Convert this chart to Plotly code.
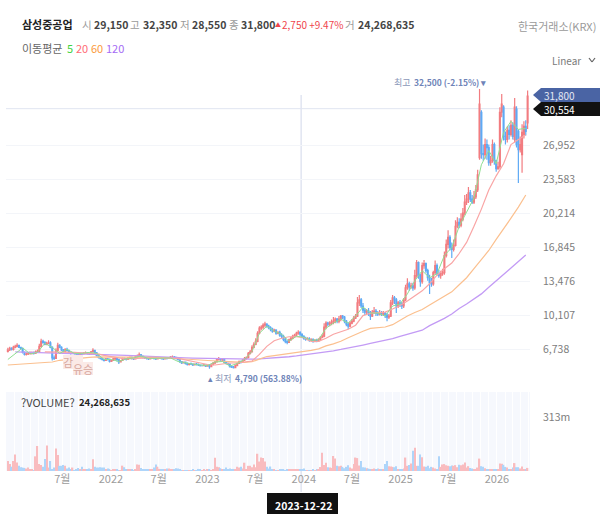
import pandas as pd
import plotly.graph_objects as go

# weekly candles (KRW)
opens = [
    6500,6650,6800,6700,6900,7000,7100,6900,6800,6400,
    6200,6250,6300,6350,6350,6300,6450,6500,7000,7500,
    7400,7200,7300,7350,6900,5850,5800,6600,7100,6900,
    6650,6500,6700,6600,6400,6300,6350,6300,6250,6200,
    6300,6250,6300,6350,6300,6250,6450,6600,6350,6100,
    5900,5800,5700,5600,5750,5700,5500,5600,5750,5800,
    5700,5450,5600,5800,5750,5700,5850,5900,5800,5750,
    6000,6050,6150,6000,5900,5850,5800,5750,5850,5900,
    5800,5750,5800,5850,5800,5750,5850,5800,5850,5950,
    5950,5900,5800,5700,5500,5350,5450,5300,5200,5300,
    5250,5150,5250,5200,5150,5100,5100,5150,5050,5150,
    5000,5200,5350,5450,5700,5750,5650,5700,5400,5300,
    5250,5000,4950,4900,5100,5300,5500,5400,5650,5800,
    5900,6300,6450,6900,7200,7500,8300,8800,8900,9100,
    9200,9000,8850,8700,8500,8600,8300,8400,8100,8000,
    7700,7500,7400,7650,7800,8000,8100,8300,8400,8200,
    8000,7800,7700,7750,7600,7650,7500,7600,7550,7700,
    7900,8000,8900,9300,9200,9300,9400,9500,9700,9500,
    9700,10000,9900,9500,9200,9000,9300,9500,9800,10000,
    11300,11600,11000,10600,10400,10500,10300,10000,10400,10500,
    10300,10200,10350,10200,10300,10100,9900,10000,11300,11800,
    11600,11000,11300,11200,11000,11600,12800,13200,12900,13000,
    12800,14000,15300,14000,13400,15000,15200,14500,13800,13300,
    13200,14300,15000,14200,14000,14200,14300,16000,17100,17800,
    16800,16600,17000,18900,19300,19000,19600,20200,21300,21600,
    22200,21600,21300,21800,22500,25700,30200,26100,26000,27000,
    26700,25200,25400,27000,25400,24600,24800,30200,30700,27800,
    27500,28400,28000,28900,27500,30500,28300,26500,26000,28000,
    28800,29150,
]
highs = [
    6850,6950,6900,7050,7150,7300,7150,6950,6850,6500,
    6400,6450,6500,6500,6500,6600,6700,7250,7750,7650,
    7500,7450,7600,7500,7000,6100,6800,7350,7200,7000,
    6750,6800,6850,6650,6500,6450,6450,6400,6350,6400,
    6400,6450,6500,6450,6400,6550,6800,6650,6450,6200,
    6000,5900,5800,5850,5850,5800,5700,5850,5900,5950,
    5750,5650,5900,5900,5850,5950,6000,6000,5900,6100,
    6200,6400,6250,6100,6000,5950,5900,5950,6000,6000,
    5900,5900,5950,5950,5900,5950,5950,5950,6050,6100,
    6050,5950,5900,5750,5550,5500,5500,5400,5350,5400,
    5300,5300,5350,5300,5200,5200,5250,5200,5200,5200,
    5300,5450,5550,5850,5950,5850,5850,5750,5500,5400,
    5300,5100,5050,5200,5400,5600,5600,5750,5950,6000,
    6450,6650,7100,7400,7800,8500,9000,9100,9300,9450,
    9300,9150,9000,8850,8750,8700,8500,8550,8300,8150,
    7850,7600,7750,7950,8150,8250,8450,8600,8500,8300,
    8100,7950,7900,7900,7800,7800,7700,7750,7800,8000,
    8200,9300,9500,9450,9500,9650,9900,9850,9800,10000,
    10100,10100,10000,9600,9400,9500,9700,10000,10200,11900,
    12100,11800,11300,10800,10700,10800,10500,10600,10900,10700,
    10500,10600,10500,10500,10400,10300,10200,11600,12100,12000,
    11800,11500,11600,11400,11800,13100,13750,13400,13300,13300,
    14600,15550,15400,14200,15300,15550,15300,14700,14100,13800,
    14500,15500,15200,14600,14500,14700,16400,17600,18500,18000,
    17300,17600,19500,19800,19700,20200,20700,22000,22100,22800,
    22500,22000,22400,23000,24500,32500,30400,27000,27600,27500,
    27000,25900,27500,27200,25500,25300,30700,32000,30900,28300,
    28800,28900,29400,29200,31600,30800,28500,27800,29000,29300,
    29400,32350,
]
lows = [
    6400,6550,6600,6600,6800,6900,6850,6700,6300,6100,
    6100,6150,6200,6200,6200,6250,6350,6450,6900,7250,
    7100,7100,7200,6800,5600,5650,5750,6500,6800,6550,
    6400,6400,6500,6300,6200,6250,6200,6150,6100,6150,
    6150,6200,6250,6200,6150,6200,6400,6300,6000,5800,
    5700,5600,5500,5550,5600,5400,5450,5550,5650,5500,
    5250,5400,5550,5650,5600,5650,5800,5700,5650,5700,
    5900,6000,5900,5800,5750,5700,5650,5700,5800,5700,
    5650,5700,5750,5700,5650,5700,5700,5750,5800,5850,
    5800,5700,5600,5350,5250,5300,5200,5100,5100,5150,
    5050,5100,5100,5050,5000,5000,5050,4950,5000,4790,
    4950,5100,5250,5400,5600,5550,5550,5300,5200,5150,
    4900,4850,4800,4850,5050,5250,5300,5350,5550,5700,
    5800,6200,6400,6800,7100,7400,8200,8600,8700,8900,
    8850,8700,8500,8350,8400,8150,8200,7950,7800,7500,
    7300,7200,7350,7550,7700,7850,8000,8150,8000,7850,
    7650,7550,7600,7450,7500,7350,7400,7400,7450,7600,
    7800,7900,8700,9000,9000,9100,9200,9300,9300,9300,
    9500,9700,9300,9000,8700,8900,9200,9400,9700,9900,
    11000,10800,10300,10100,10200,10000,9600,9900,10200,10000,
    10000,10050,10000,10000,9800,9500,9700,9900,11100,11200,
    10300,10800,10900,10700,10800,11500,12600,12500,12700,12500,
    12600,13800,13700,12900,13200,14700,14300,13500,12200,12900,
    13000,14100,14000,13800,13700,14000,14100,15800,16700,16500,
    15750,16400,16900,18700,18700,18800,19400,20000,21000,21200,
    21300,21100,21100,21600,22300,25500,25600,25400,25600,25500,
    24900,24900,25200,25000,24300,24500,24600,29700,27400,27000,
    27200,27500,27800,27500,27200,26700,23200,26200,24200,27600,
    27900,28550,
]
closes = [
    6640,6800,6700,6900,7000,7100,6900,6800,6400,6200,
    6240,6300,6350,6350,6300,6450,6500,7000,7500,7400,
    7200,7300,7350,6900,5850,5800,6600,7100,6900,6650,
    6500,6700,6600,6400,6300,6350,6300,6250,6200,6300,
    6250,6300,6350,6300,6250,6450,6600,6350,6100,5900,
    5800,5700,5600,5750,5700,5500,5600,5750,5800,5700,
    5450,5600,5800,5750,5700,5850,5900,5800,5750,6000,
    6050,6150,6000,5900,5850,5800,5750,5850,5900,5800,
    5750,5800,5850,5800,5750,5850,5800,5850,5950,5950,
    5900,5800,5700,5500,5350,5450,5300,5200,5300,5250,
    5150,5250,5200,5150,5100,5100,5150,5050,5150,5000,
    5200,5350,5450,5700,5750,5650,5700,5400,5300,5250,
    5000,4950,4900,5100,5300,5500,5400,5650,5800,5900,
    6300,6450,6900,7200,7500,8300,8800,8900,9100,9200,
    9000,8850,8700,8500,8600,8300,8400,8100,8000,7700,
    7500,7400,7650,7800,8000,8100,8300,8400,8200,8000,
    7800,7700,7750,7600,7650,7500,7600,7550,7700,7900,
    8000,8900,9300,9200,9300,9400,9500,9700,9500,9700,
    10000,9900,9500,9200,9000,9300,9500,9800,10000,11300,
    11600,11000,10600,10400,10500,10300,10000,10400,10500,10300,
    10200,10350,10200,10300,10100,9900,10000,11300,11800,11600,
    11000,11300,11200,11000,11600,12800,13200,12900,13000,12800,
    14000,15300,14000,13400,15000,15200,14500,13800,13300,13200,
    14300,15000,14200,14000,14200,14300,16000,17100,17800,16800,
    16600,17000,18900,19300,19000,19600,20200,21300,21600,22200,
    21600,21300,21800,22500,24000,31000,26100,26000,27000,26700,
    25200,25400,27000,25400,24600,24800,30200,31000,27800,27500,
    28400,28000,28900,27800,30700,27000,26500,27000,28200,28800,
    28300,31800,
]
# volume in millions of shares
volumes = [
    58,40,25,58,95,50,30,22,20,18,
    14,20,10,6,5,85,145,40,35,25,
    70,148,20,58,10,20,131,93,30,30,
    35,30,15,20,10,20,5,6,18,12,
    25,8,6,8,14,12,68,25,20,20,
    22,20,20,10,15,12,5,10,12,8,
    5,4,31,22,8,12,8,6,5,8,
    38,36,18,8,10,8,6,10,8,20,
    38,25,12,10,6,6,15,14,6,10,
    10,16,14,6,5,5,5,4,4,5,
    6,4,3,12,8,4,8,5,6,8,
    5,6,77,25,22,16,10,8,20,12,
    14,8,12,8,24,20,24,14,48,8,
    30,30,22,38,22,100,55,78,76,55,
    25,14,26,8,6,4,5,8,6,6,
    5,7,8,7,6,8,10,10,6,6,
    14,5,4,5,4,6,5,6,10,23,
    106,35,48,22,20,18,87,72,30,28,
    30,24,16,24,34,20,15,40,78,75,
    32,58,22,20,16,14,10,8,14,8,
    14,8,6,8,40,58,28,26,24,22,
    28,8,8,10,14,78,30,35,44,118,
    135,30,30,96,80,26,24,30,16,24,
    20,14,10,85,24,38,40,34,30,28,
    32,30,34,22,36,34,38,50,20,28,
    18,14,10,8,20,72,28,24,16,10,
    8,6,10,6,8,8,44,42,36,24,
    20,10,8,20,46,22,22,14,26,12,
    8,18,
]

# moving averages, read every fourth week
ma5 = [
    5700,6300,6850,6250,6400,7300,6900,6300,6700,6300,
    6300,6400,6300,5700,5700,5500,5750,5850,6050,5800,
    5800,5850,5850,5500,5350,5250,5150,5100,5450,5500,
    5050,5300,5700,6500,8300,9000,8500,8200,7500,8000,
    7900,7600,7650,8800,9300,9700,9300,10000,10900,10300,
    10300,10000,11000,11200,12200,13500,14500,13800,14200,16000,
    16800,18900,20300,21700,25000,26400,25100,28200,29300,28500,
    28600,
]
ma20 = [
    None,None,None,None,None,6450,6450,6450,6450,6400,
    6350,6300,6280,6100,5950,5850,5750,5800,5850,5850,
    5850,5800,5800,5800,5650,5450,5300,5200,5150,5250,
    5350,5350,5420,5550,6200,7000,7550,7800,7950,7950,
    7850,7480,7500,7800,8200,8450,8700,9100,10050,10280,
    10350,10400,10700,11050,11500,12000,12500,13200,14050,14700,
    15250,16200,17300,18900,20600,22500,23900,25100,27000,27500,
    27950,
]
ma60 = [
    5150,5200,5250,5300,5350,5400,5450,5620,5700,5800,
    5850,5900,5950,5950,5950,5950,5950,5950,5950,5930,
    5900,5870,5840,5800,5750,5700,5650,5600,5550,5500,
    5450,5420,5410,5480,5700,5990,6080,6170,6270,6370,
    6460,6600,6750,7050,7250,7500,7850,8200,8500,8780,
    8860,8920,9150,9600,10000,10350,10650,11100,11550,12000,
    12400,13100,13800,14700,15550,16500,17600,18600,19700,20800,
    22000,
]
ma120 = [
    None,6450,6430,6420,6400,6400,6380,6360,6340,6320,
    6300,6270,6240,6200,6170,6130,6100,6060,6030,6000,
    5960,5930,5900,5870,5850,5830,5810,5790,5770,5750,
    5740,5720,5720,5730,5750,5790,5840,5900,5970,6050,
    6140,6240,6330,6440,6560,6690,6820,6970,7130,7290,
    7430,7590,7770,7990,8210,8440,8600,9050,9400,9770,
    10200,10750,11200,11700,12200,12850,13500,14100,14750,15400,
    16050,
]

price_ticks = [6738, 10107, 13476, 16845, 20214, 23583, 26952]
date_ticks = ["2021-07-01", "2022-01-01", "2022-07-01", "2023-01-01", "2023-07-01",
              "2024-01-01", "2024-07-01", "2025-01-01", "2025-07-01", "2026-01-01"]
date_labels = ["7월", "2022", "7월", "2023", "7월", "2024", "7월", "2025", "7월", "2026"]
volume_ticks = [313]
volume_labels = ["313m"]

FONT = "Noto Sans CJK KR"
W, H = 600, 514


def px(x):
    return x / W


def py(y):
    return 1 - y / H


dates = pd.date_range(end="2026-04-27", periods=len(closes), freq="W-MON")
ma_dates = dates[::4]

fig = go.Figure()

fig.add_trace(go.Candlestick(
    x=dates, open=opens, high=highs, low=lows, close=closes,
    increasing=dict(line=dict(color="#f27c80", width=1.2), fillcolor="#f27c80"),
    decreasing=dict(line=dict(color="#5eaaf5", width=1.2), fillcolor="#5eaaf5"),
    whiskerwidth=0, showlegend=False, xaxis="x", yaxis="y"))

for values, color, width in [(ma120, "#c39bf5", 1.3), (ma60, "#fbc08f", 1.2),
                             (ma20, "#f9a5a5", 1.2), (ma5, "#8fdf92", 1)]:
    fig.add_trace(go.Scatter(x=ma_dates, y=values, mode="lines", line=dict(color=color, width=width),
                             showlegend=False, connectgaps=False, xaxis="x", yaxis="y"))

vol_colors = ["#f9bcbf" if c >= o else "#aed5fa" for o, c in zip(opens, closes)]
fig.add_trace(go.Bar(x=dates, y=volumes, marker=dict(color=vol_colors, line_width=0),
                     showlegend=False, xaxis="x2", yaxis="y2"))

x_range = ["2020-11-30", "2026-05-06"]
fig.update_layout(
    width=W, height=H, margin=dict(l=0, r=0, t=0, b=0, pad=0), autosize=False,
    paper_bgcolor="white", plot_bgcolor="rgba(0,0,0,0)", bargap=0.25,
    font=dict(family=FONT, size=11, color="#888888"),
    xaxis=dict(domain=[px(6), px(530)], range=x_range, type="date", rangeslider_visible=False,
               showticklabels=False, showgrid=False, zeroline=False, anchor="y"),
    yaxis=dict(domain=[py(385), py(80)], range=[3170, 33396], side="right", anchor="x",
               tickvals=price_ticks, ticktext=[f"{v:,}" for v in price_ticks],
               ticklabelstandoff=12, ticks="", gridcolor="#f3f5f9", gridwidth=1, zeroline=False,
               tickfont=dict(size=10.5, color="#7d7d7d")),
    xaxis2=dict(domain=[px(6), px(530)], range=x_range, type="date", anchor="y2",
                tickvals=date_ticks, ticktext=date_labels, ticks="", showgrid=False, zeroline=False,
                tickfont=dict(size=11, color="#9c9c9c"),
                minor=dict(dtick="M1", showgrid=True, gridcolor="white", gridwidth=1)),
    yaxis2=dict(domain=[py(471), py(392)], range=[0, 458], side="right", anchor="x2",
                tickvals=volume_ticks, ticktext=volume_labels, ticklabelstandoff=12, ticks="",
                showgrid=False, zeroline=False, tickfont=dict(size=10.5, color="#7d7d7d")),
)

# volume panel background + crosshair
fig.add_shape(type="rect", xref="paper", yref="paper", x0=px(6), x1=px(530), y0=py(471), y1=py(392),
              fillcolor="#f6f8fd", line_width=0, layer="below")
fig.add_shape(type="line", xref="paper", yref="y", x0=px(6), x1=px(530), y0=30554, y1=30554,
              line=dict(color="#e0e5f1", width=1), layer="below")
fig.add_shape(type="line", xref="x", yref="paper", x0="2023-12-22", x1="2023-12-22", y0=py(492), y1=py(95),
              line=dict(color="#e0e5f1", width=1.5), layer="below")


def tag(x0, x1, y0, y1, color):
    mid = (y0 + y1) / 2
    path = (f"M {px(x0)},{py(mid)} L {px(x0 + 8)},{py(y0)} L {px(x1)},{py(y0)} "
            f"L {px(x1)},{py(y1)} L {px(x0 + 8)},{py(y1)} Z")
    fig.add_shape(type="path", xref="paper", yref="paper", path=path, fillcolor=color, line_width=0)


tag(533, 600, 88, 102, "#4a64a4")
tag(533, 600, 102, 116, "#111111")
fig.add_shape(type="rect", xref="paper", yref="paper", x0=px(267), x1=px(338), y0=py(514), y1=py(493),
              fillcolor="#111111", line_width=0)

# pink badges over the candles
for x0, x1, y0, y1 in [(63, 74, 355, 369), (73, 83, 355, 362), (73, 93, 362, 375)]:
    fig.add_shape(type="rect", xref="paper", yref="paper", x0=px(x0), x1=px(x1), y0=py(y1), y1=py(y0),
                  fillcolor="#fbeae7", line_width=0)

# chevron next to Linear
for x0, y0, x1, y1 in [(589, 58, 592, 62), (592, 62, 595, 58)]:
    fig.add_shape(type="line", xref="paper", yref="paper", x0=px(x0), y0=py(y0), x1=px(x1), y1=py(y1),
                  line=dict(color="#666666", width=1.2))


def label(x, y, text, color="#555555", size=11, bold=False, anchor="left"):
    fig.add_annotation(xref="paper", yref="paper", x=px(x), y=py(y), text=f"<b>{text}</b>" if bold else text,
                       showarrow=False, xanchor=anchor, yanchor="middle", borderpad=0,
                       font=dict(family=FONT, size=size, color=color))


label(21, 24, "삼성중공업", "#222222", 11, True)
for x, name, nx, val in [(81, "시", 93, "29,150"), (129, "고", 142, "32,350"),
                         (179, "저", 191, "28,550"), (228, "종", 240, "31,800")]:
    label(x, 24, name, "#9a9a9a", 10.5)
    label(nx, 24, val, "#444444", 10.5, True)
label(274, 24, "▲", "#f0464c", 6)
label(281, 24, "2,750 +9.47%", "#f0464c", 10)
label(344, 24, "거", "#9a9a9a", 10.5)
label(357, 24, "24,268,635", "#444444", 10.5, True)
label(597, 26, "한국거래소(KRX)", "#9a9a9a", 11, anchor="right")
label(582, 60, "Linear", "#7a7a7a", 10, anchor="right")

label(21, 48, "이동평균", "#666666")
label(66, 48, "5", "#3fd33f")
label(75, 48, "20", "#ff6b75")
label(90, 48, "60", "#fb9a3c")
label(105, 48, "120", "#a56bf5")

label(393, 82, "최고", "#8a97b8", 9)
label(413, 82, "32,500 (-2.15%) ▾", "#6f84b8", 8.5, True)
label(207, 378, "▴", "#6f84b8", 9)
label(214, 378, "최저", "#8a97b8", 9)
label(234, 378, "4,790 (563.88%)", "#6f84b8", 8.5, True)

label(20, 402, "?VOLUME?", "#444444")
label(78, 402, "24,268,635", "#222222", 9.5, True)

label(543, 95, "31,800", "#e4e8f4", 10)
label(543, 109, "30,554", "#ffffff", 10)
label(303, 505, "2023-12-22", "#ffffff", 10.5, True, "center")
label(68, 362, "감", "#d8a79d", 11, anchor="center")
label(83, 369, "유승", "#d8a79d", 11, anchor="center")

fig.write_html("out.html", config=dict(displayModeBar=False),
               post_script="document.body.style.margin='0';")
